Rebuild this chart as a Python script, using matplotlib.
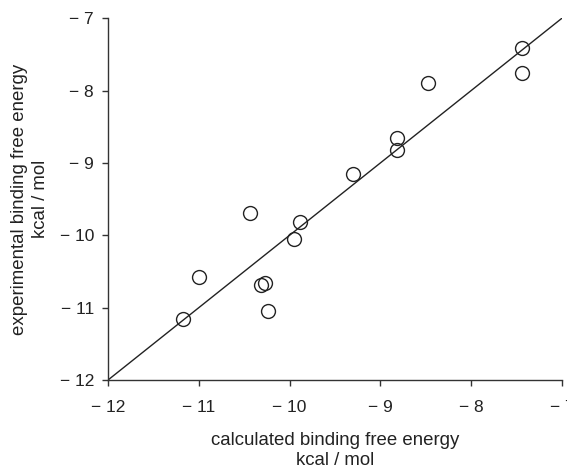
import matplotlib
matplotlib.use("Agg")
import matplotlib.pyplot as plt
from matplotlib.ticker import FuncFormatter

plt.rcParams['font.family'] = ['Liberation Sans', 'DejaVu Sans']

calculated = [-7.44, -7.44, -8.47, -8.82, -8.82, -9.30, -10.44, -9.88, -9.95,
              -11.00, -10.31, -10.27, -10.24, -11.17]
experimental = [-7.41, -7.76, -7.89, -8.66, -8.82, -9.15, -9.69, -9.81, -10.05,
                -10.58, -10.68, -10.66, -11.04, -11.15]
ticks = [-12, -11, -10, -9, -8, -7]
line_ends = [-12, -7]

fig = plt.figure(figsize=(5.67, 4.68), dpi=100)
ax = fig.add_axes([0.1905, 0.188, 0.8005, 0.773])

ax.plot(line_ends, line_ends, color='#222222', lw=1.0, zorder=1)
ax.plot(calculated, experimental, 'o', ms=10, mfc='none', mec='#222222', mew=1.0,
        zorder=2, clip_on=False)

ax.set_xlim(-12, -7)
ax.set_ylim(-12, -7)
ax.set_xticks(ticks)
ax.set_yticks(ticks)
fmt = FuncFormatter(lambda v, p: "\u2212 " + str(abs(int(round(v)))))
ax.xaxis.set_major_formatter(fmt)
ax.yaxis.set_major_formatter(fmt)

for s in ['top', 'right']:
    ax.spines[s].set_visible(False)
for s in ['left', 'bottom']:
    ax.spines[s].set_color('#333333')
    ax.spines[s].set_linewidth(1.0)
ax.tick_params(direction='out', length=4, width=1, color='#333333',
               labelsize=12.5, labelcolor='#222222')
ax.tick_params(axis='x', pad=10.5)
ax.tick_params(axis='y', pad=6)

ax.set_xlabel("calculated binding free energy\nkcal / mol", fontsize=13.4,
              color='#222222', labelpad=12, linespacing=1.25)
ax.set_ylabel("experimental binding free energy\nkcal / mol", fontsize=13.4,
              color='#222222', labelpad=8, linespacing=1.25)

fig.savefig("out.png", dpi=100)
